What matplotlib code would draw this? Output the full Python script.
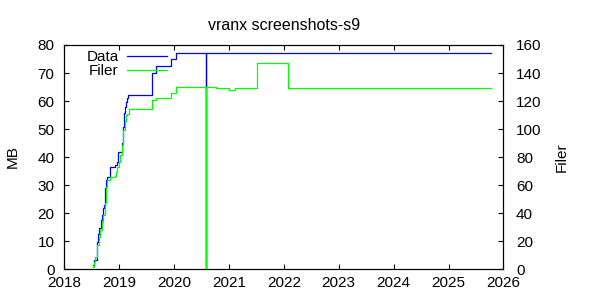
#!/usr/bin/env python3
import numpy as np
import matplotlib.pyplot as plt
plt.switch_backend('agg')

plt.rcParams['font.family'] = ['Liberation Sans', 'DejaVu Sans']
plt.rcParams['font.size'] = 11

# dates as decimal years, Data in MB (left axis), Filer count (right axis)
data_t = [2018.527, 2018.545, 2018.589, 2018.607, 2018.618, 2018.636, 2018.662,
          2018.680, 2018.698, 2018.722, 2018.745, 2018.764, 2018.782, 2018.831,
          2018.922, 2018.953, 2018.982, 2019.044, 2019.062, 2019.085, 2019.104,
          2019.122, 2019.135, 2019.164, 2019.607, 2019.680, 2019.953, 2020.044,
          2020.589, 2020.589, 2025.771]
data_mb = [1.4, 3.2, 9.8, 10.4, 12.7, 14.5, 17.5,
           19.3, 21.7, 22.9, 28.8, 31.8, 32.7, 36.5,
           37.1, 38.3, 41.9, 44.9, 50.8, 55.6, 58.0,
           59.8, 61.0, 62.1, 70.0, 72.4, 74.9, 77.0,
           0.0, 77.0, 77.0]

filer_t = [2018.527, 2018.545, 2018.558, 2018.600, 2018.631, 2018.649, 2018.680,
           2018.709, 2018.740, 2018.758, 2018.782, 2018.831, 2018.922, 2018.940,
           2018.964, 2018.995, 2019.025, 2019.055, 2019.073, 2019.104, 2019.122,
           2019.145, 2019.182, 2019.607, 2019.680, 2019.890, 2019.953, 2020.044,
           2020.589, 2020.589, 2020.771, 2021.000, 2021.116, 2021.509, 2022.073,
           2025.771]
filer_n = [1.7, 5.2, 8.8, 17, 23, 27.9, 33.8,
           38.6, 47, 58.8, 63.6, 65.5, 66.4, 69.5,
           73, 76.6, 81.4, 88.6, 99, 106, 110,
           111, 114, 120.7, 122.4, 122, 126, 129.8,
           0, 129.8, 129, 127.9, 129, 147, 129,
           129]


def main():
    fig = plt.figure(figsize=(6, 3), dpi=100)
    ax = fig.add_axes([0.107, 0.103, 0.732, 0.747])
    ax2 = ax.twinx()

    l1, = ax.step(data_t, data_mb, where='post', color='#0000ff', lw=0.9, label='Data')
    l2, = ax2.step(filer_t, filer_n, where='post', color='#00ff00', lw=0.9, label='Filer')

    ax.set_xlim(2018, 2026)
    ax.set_ylim(0, 80)
    ax2.set_ylim(0, 160)
    ax.set_xticks(range(2018, 2027))
    ax.set_yticks(range(0, 81, 10))
    ax2.set_yticks(range(0, 161, 20))

    ax.tick_params(axis='x', direction='in', length=3.6, top=True, pad=5)
    ax.tick_params(axis='y', direction='in', length=3.6, right=False, pad=7)
    ax2.tick_params(axis='y', direction='in', length=3.6, pad=9)
    for a in (ax, ax2):
        for s in a.spines.values():
            s.set_linewidth(0.8)

    ax.set_ylabel('MB', labelpad=13)
    ax2.set_ylabel('Filer', labelpad=9.5)
    ax.set_title('vranx screenshots-s9', fontsize=11.5, pad=11)

    ax2.legend([l1, l2], ['Data', 'Filer'], loc='upper left',
               bbox_to_anchor=(0.051, 0.977), frameon=False, markerfirst=False,
               handlelength=2.6, handletextpad=0.55, labelspacing=0.0,
               borderpad=0.0, borderaxespad=0.0)

    fig.savefig('out.png', dpi=100)


if __name__ == '__main__':
    main()
